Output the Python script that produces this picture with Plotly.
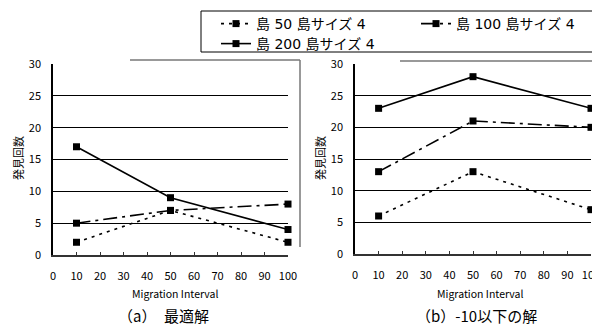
import plotly.graph_objects as go

x_interval = [10, 50, 100]
series_names = ["島 50 島サイズ 4", "島 100 島サイズ 4", "島 200 島サイズ 4"]
a_island50 = [2, 7, 2]
a_island100 = [5, 7, 8]
a_island200 = [17, 9, 4]
b_island50 = [6, 13, 7]
b_island100 = [13, 21, 20]
b_island200 = [23, 28, 23]
y_ticks = [0, 5, 10, 15, 20, 25, 30]
x_ticks = [0, 10, 20, 30, 40, 50, 60, 70, 80, 90, 100]

W, H = 600, 327
OFF = 8  # page body margin
dashes = ["3px,5px", "14px,5px,3px,5px", "solid"]
legend_ids = ["legend", "legend", "legend2"]
FONT = "Noto Sans CJK JP"
LEG_FONT = "DejaVu Sans, Noto Sans CJK JP"

fig = go.Figure()
for i, (ya, yb) in enumerate([(a_island50, b_island50), (a_island100, b_island100), (a_island200, b_island200)]):
    for ys, xa, ya_name, show in [(ya, "x", "y", True), (yb, "x2", "y2", False)]:
        fig.add_trace(go.Scatter(
            x=x_interval, y=ys, xaxis=xa, yaxis=ya_name, mode="lines+markers",
            name=series_names[i], showlegend=show, legendgroup=str(i), legend=legend_ids[i],
            line=dict(color="black", width=1.6, dash=dashes[i]),
            marker=dict(symbol="square", size=7, color="black"),
            cliponaxis=False,
        ))

def px_x(p):
    return (p - OFF) / W

def px_y(p):
    return (H - (p - OFF)) / H

axis_common = dict(range=[0, 100], tickvals=x_ticks, ticks="inside", ticklen=3, tickcolor="#333",
                   ticklabelstandoff=10,
                   showline=True, linecolor="#333", linewidth=2, showgrid=False, zeroline=False,
                   tickfont=dict(family=FONT, size=11, color="black"), fixedrange=True)
yaxis_common = dict(range=[0, 30], tickvals=y_ticks, ticks="outside", ticklen=8,
                    tickcolor="rgba(0,0,0,0)",
                    showline=True, linecolor="black", linewidth=1.5, showgrid=True, gridcolor="black",
                    gridwidth=1, zeroline=False,
                    tickfont=dict(family=FONT, size=11, color="black"), fixedrange=True)

def seg(x0, y0, x1, y1, color="#777", width=1.5):
    return dict(type="line", xref="paper", yref="paper", x0=px_x(x0), y0=px_y(y0),
                x1=px_x(x1), y1=px_y(y1), line=dict(color=color, width=width), layer="below")

shapes = [
    seg(130, 60, 300, 60),
    seg(300, 60, 300, 247),
    seg(400, 61, 600, 61),
    dict(type="rect", xref="paper", yref="paper", x0=px_x(201), y0=px_y(52), x1=px_x(599), y1=px_y(11),
         line=dict(color="black", width=1), fillcolor="white", layer="below"),
]

legend_common = dict(orientation="h", xanchor="left", yanchor="top", borderwidth=0,
                     bgcolor="rgba(0,0,0,0)", font=dict(family=LEG_FONT, size=14, color="black"),
                     entrywidth=155, entrywidthmode="pixels", tracegroupgap=0, itemwidth=30)

def ann(text, x, y, size, angle=0):
    return dict(text=text, x=px_x(x), y=px_y(y), xref="paper", yref="paper", showarrow=False,
                xanchor="center", yanchor="middle", textangle=angle, font=dict(size=size))

fig.update_layout(
    width=W, height=H,
    margin=dict(l=0, r=0, t=0, b=0, autoexpand=False),
    paper_bgcolor="white", plot_bgcolor="rgba(0,0,0,0)",
    font=dict(family=FONT, color="black"),
    xaxis=dict(domain=[px_x(53), px_x(288)], anchor="y", automargin=False, **axis_common),
    yaxis=dict(domain=[px_y(255), px_y(64)], anchor="x", automargin=False, **yaxis_common),
    xaxis2=dict(domain=[px_x(355), px_x(591)], anchor="y2", automargin=False, **axis_common),
    yaxis2=dict(domain=[px_y(254), px_y(64)], anchor="x2", automargin=False, **yaxis_common),
    legend=dict(x=px_x(216), y=px_y(8), **legend_common),
    legend2=dict(x=px_x(216), y=px_y(28), **legend_common),
    shapes=shapes,
    annotations=[
        ann("発見回数", 18, 158, 11, -90),
        ann("発見回数", 320, 158, 11, -90),
        ann("Migration Interval", 175, 293, 10.5),
        ann("Migration Interval", 480, 293, 10.5),
        ann("（a）　最適解", 163, 315, 15),
        ann("（b）-10以下の解", 476, 315, 15),
    ],
)

fig.write_html("out.html")
